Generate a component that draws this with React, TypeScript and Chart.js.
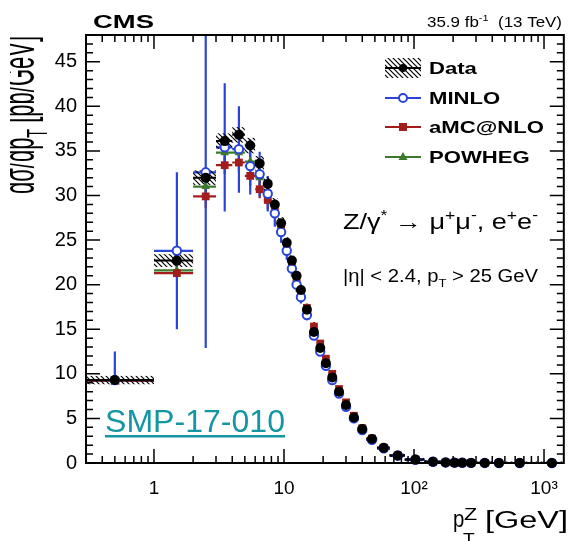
import React, { useEffect, useRef } from "react";
import { Chart, registerables } from "chart.js";
Chart.register(...registerables);

// ---- data (pT^Z bins in GeV) ----
const binLow = [0, 1, 2, 3, 4, 5, 6, 7, 8, 9, 10, 11, 12, 13, 14, 16, 18, 20, 22, 25, 28, 32, 37, 43, 52, 65, 85, 120, 160, 190, 220, 250, 300, 400, 500, 800];
const binHigh = [1, 2, 3, 4, 5, 6, 7, 8, 9, 10, 11, 12, 13, 14, 16, 18, 20, 22, 25, 28, 32, 37, 43, 52, 65, 85, 120, 160, 190, 220, 250, 300, 400, 500, 800, 1500];
const binCenter = [0.5, 1.5, 2.5, 3.5, 4.5, 5.5, 6.5, 7.5, 8.5, 9.5, 10.5, 11.5, 12.5, 13.5, 15, 17, 19, 21, 23.5, 26.5, 30, 34.5, 40, 47.5, 58.5, 75, 102.5, 140, 175, 205, 235, 275, 350, 450, 650, 1150];

const dataVals = [9.3, 22.7, 32.0, 36.1, 36.8, 35.6, 33.6, 31.3, 29.0, 26.9, 24.7, 22.7, 21.0, 19.4, 17.2, 14.7, 12.9, 11.2, 9.6, 8.0, 6.5, 5.1, 3.8, 2.7, 1.7, 0.85, 0.38, 0.14, 0.065, 0.038, 0.024, 0.014, 0.0065, 0.0025, 0.0008, 0.0001];
const dataUnc = [0.3, 0.55, 0.65, 0.7, 0.7, 0.7, 0.65, 0.6, 0.55, 0.5, 0.45, 0.42, 0.4, 0.37, 0.33, 0.28, 0.25, 0.22, 0.19, 0.16, 0.13, 0.1, 0.08, 0.06, 0.04, 0.02, 0.01, 0.004, 0.002, 0.001, 0.001, 0.0005, 0.0003, 0.0001, 0.00005, 0.00001];

const minloVals = [9.3, 23.8, 32.6, 35.4, 35.2, 33.3, 32.4, 30.2, 28.0, 25.9, 23.8, 21.8, 20.0, 18.6, 16.6, 14.3, 12.5, 10.9, 9.3, 7.8, 6.3, 5.0, 3.7, 2.6, 1.65, 0.82, 0.37, 0.135, 0.063, 0.037, 0.023, 0.013, 0.0062, 0.0024, 0.0008, 0.0001];
const minloErrUp = [3.2, 8.8, 20.0, 7.2, 4.8, 3.0, 2.5, 2.0, 1.5, 1.2, 1.0, 0.9, 0.8, 0.7, 0.6, 0.5, 0.5, 0.4, 0.4, 0.3, 0.3, 0.2, 0.2, 0.15, 0.1, 0.06, 0.03, 0.01, 0.005, 0.003, 0.002, 0.001, 0.0005, 0.0002, 0.0001, 0.00001];
const minloErrDown = [0.3, 8.8, 19.7, 7.2, 4.9, 3.2, 2.5, 2.0, 1.5, 1.2, 1.0, 0.9, 0.8, 0.7, 0.6, 0.5, 0.5, 0.4, 0.4, 0.3, 0.3, 0.2, 0.2, 0.15, 0.1, 0.06, 0.03, 0.01, 0.005, 0.003, 0.002, 0.001, 0.0005, 0.0002, 0.0001, 0.00001];

const amcVals = [9.2, 21.3, 29.9, 33.4, 33.7, 32.2, 30.7, 29.5, 28.4, 26.2, 24.2, 22.3, 20.6, 19.3, 17.4, 15.3, 13.4, 11.7, 10.0, 8.3, 6.8, 5.3, 3.9, 2.75, 1.72, 0.86, 0.39, 0.14, 0.066, 0.038, 0.024, 0.014, 0.0066, 0.0025, 0.0008, 0.0001];
const amcErr = [0.3, 0.5, 1.3, 1.0, 1.0, 1.1, 1.0, 1.0, 0.9, 0.8, 0.8, 0.7, 0.7, 0.6, 0.5, 0.5, 0.4, 0.4, 0.3, 0.3, 0.25, 0.2, 0.15, 0.1, 0.08, 0.05, 0.02, 0.01, 0.005, 0.003, 0.002, 0.001, 0.0005, 0.0002, 0.0001, 0.00001];

const powhegVals = [9.2, 21.6, 31.0, 34.8, 34.8, 33.8, 32.0, 30.5, 28.4, 26.2, 24.0, 22.0, 20.4, 18.9, 16.9, 14.6, 12.8, 11.1, 9.5, 7.9, 6.4, 5.0, 3.7, 2.6, 1.62, 0.8, 0.36, 0.13, 0.062, 0.036, 0.023, 0.013, 0.0062, 0.0024, 0.0008, 0.0001];
const powhegErr = [0.3, 0.4, 0.8, 0.9, 0.9, 0.9, 0.8, 0.8, 0.7, 0.6, 0.6, 0.5, 0.5, 0.5, 0.4, 0.4, 0.3, 0.3, 0.3, 0.2, 0.2, 0.15, 0.1, 0.08, 0.06, 0.04, 0.02, 0.01, 0.005, 0.003, 0.002, 0.001, 0.0005, 0.0002, 0.0001, 0.00001];

const xTickValues = [1, 10, 100, 1000];
const xTickLabels = ["1", "10", "10²", "10³"];
const yTickValues = [0, 5, 10, 15, 20, 25, 30, 35, 40, 45];

const BLUE = "#2a44d8";
const RED = "#a31c1c";
const GREEN = "#3b7a2c";
const TEAL = "#1596a3";
const FONT = '"Liberation Sans", Arial, Helvetica, sans-serif';

type Seg = { t: string; s?: "sub" | "sup" };

function richWidth(ctx: CanvasRenderingContext2D, segs: Seg[], size: number, bold?: boolean) {
  let w = 0;
  for (const sg of segs) {
    const fs = sg.s ? size * 0.65 : size;
    ctx.font = `${bold ? "bold " : ""}${fs}px ${FONT}`;
    w += ctx.measureText(sg.t).width;
  }
  return w;
}

function drawRich(
  ctx: CanvasRenderingContext2D,
  segs: Seg[],
  x: number,
  y: number,
  size: number,
  o: { bold?: boolean; color?: string; sx?: number; sy?: number; width?: number; align?: string } = {}
) {
  const nat = richWidth(ctx, segs, size, o.bold);
  const sx = o.width ? o.width / nat : o.sx ?? 1;
  const sy = o.sy ?? 1;
  ctx.save();
  ctx.translate(x, y);
  ctx.scale(sx, sy);
  let cx = o.align === "right" ? -nat : 0;
  ctx.fillStyle = o.color ?? "#000";
  ctx.textBaseline = "alphabetic";
  ctx.textAlign = "left";
  for (const sg of segs) {
    const fs = sg.s ? size * 0.65 : size;
    ctx.font = `${o.bold ? "bold " : ""}${fs}px ${FONT}`;
    const dy = sg.s === "sup" ? -size * 0.42 : sg.s === "sub" ? size * 0.3 : 0;
    ctx.fillText(sg.t, cx, dy);
    cx += ctx.measureText(sg.t).width;
  }
  ctx.restore();
  return nat * sx;
}

function makeHatch(ctx: CanvasRenderingContext2D) {
  const pc = document.createElement("canvas");
  pc.width = 5;
  pc.height = 5;
  const p = pc.getContext("2d")!;
  p.strokeStyle = "#000";
  p.lineWidth = 1.2;
  p.beginPath();
  p.moveTo(-1, -1);
  p.lineTo(6, 6);
  p.moveTo(-1, 4);
  p.lineTo(1, 6);
  p.moveTo(4, -1);
  p.lineTo(6, 1);
  p.stroke();
  return ctx.createPattern(pc, "repeat")!;
}

const errorBarPlugin = {
  id: "errorBars",
  beforeDatasetsDraw(chart: any) {
    const { ctx, chartArea: a } = chart;
    const xs = chart.scales.x;
    const ys = chart.scales.y;
    const px = (v: number) => xs.getPixelForValue(Math.max(v, xs.min));
    ctx.save();
    ctx.beginPath();
    ctx.rect(a.left, a.top, a.right - a.left, a.bottom - a.top);
    ctx.clip();
    const series = [
      { vals: powhegVals, up: powhegErr, dn: powhegErr, color: GREEN },
      { vals: amcVals, up: amcErr, dn: amcErr, color: RED },
      { vals: minloVals, up: minloErrUp, dn: minloErrDown, color: BLUE },
    ];
    for (const s of series) {
      ctx.strokeStyle = s.color;
      ctx.lineWidth = 2.2;
      ctx.beginPath();
      for (let i = 0; i < binCenter.length; i++) {
        const yc = ys.getPixelForValue(s.vals[i]);
        ctx.moveTo(px(binLow[i]), yc);
        ctx.lineTo(px(binHigh[i]), yc);
        const xc = xs.getPixelForValue(binCenter[i]);
        ctx.moveTo(xc, ys.getPixelForValue(s.vals[i] + s.up[i]));
        ctx.lineTo(xc, ys.getPixelForValue(s.vals[i] - s.dn[i]));
      }
      ctx.stroke();
    }
    // data: hatched uncertainty band + bin line
    const hatch = makeHatch(ctx);
    for (let i = 0; i < binCenter.length; i++) {
      const xl = px(binLow[i]);
      const xh = px(binHigh[i]);
      const yt = ys.getPixelForValue(dataVals[i] + dataUnc[i]);
      const yb = ys.getPixelForValue(dataVals[i] - dataUnc[i]);
      ctx.fillStyle = hatch;
      ctx.fillRect(xl, yt - 1.5, xh - xl, yb - yt + 3);
    }
    ctx.strokeStyle = "#000";
    ctx.lineWidth = 2;
    ctx.beginPath();
    for (let i = 0; i < binCenter.length; i++) {
      const yc = ys.getPixelForValue(dataVals[i]);
      ctx.moveTo(px(binLow[i]), yc);
      ctx.lineTo(px(binHigh[i]), yc);
    }
    ctx.stroke();
    ctx.restore();
  },
  afterDraw(chart: any) {
    const { ctx, chartArea: a } = chart;
    const xs = chart.scales.x;
    const ys = chart.scales.y;
    ctx.save();
    // frame
    ctx.strokeStyle = "#000";
    ctx.lineWidth = 2;
    ctx.strokeRect(a.left, a.top, a.right - a.left, a.bottom - a.top);
    // y ticks (inside, both sides)
    ctx.lineWidth = 1.5;
    ctx.beginPath();
    for (let v = 0; v <= ys.max; v += 1) {
      const y = ys.getPixelForValue(v);
      const len = v % 5 === 0 ? 14 : 7;
      ctx.moveTo(a.left, y);
      ctx.lineTo(a.left + len, y);
      ctx.moveTo(a.right, y);
      ctx.lineTo(a.right - len, y);
    }
    // x ticks (inside, top and bottom)
    for (let k = -1; k <= 3; k++) {
      for (let m = 1; m <= 9; m++) {
        const v = m * Math.pow(10, k);
        if (v < xs.min || v > xs.max) continue;
        const x = xs.getPixelForValue(v);
        const len = m === 1 ? 14 : 7;
        ctx.moveTo(x, a.bottom);
        ctx.lineTo(x, a.bottom - len);
        ctx.moveTo(x, a.top);
        ctx.lineTo(x, a.top + len);
      }
    }
    ctx.stroke();

    // legend
    const hatch = makeHatch(ctx);
    const lx0 = 385;
    const lx1 = 421;
    const lxc = (lx0 + lx1) / 2;
    const rows = [68, 98, 127, 157];
    // Data
    ctx.fillStyle = hatch;
    ctx.fillRect(lx0, rows[0] - 10, lx1 - lx0, 20);
    ctx.strokeStyle = "#000";
    ctx.lineWidth = 2;
    ctx.beginPath();
    ctx.moveTo(lx0, rows[0]);
    ctx.lineTo(lx1, rows[0]);
    ctx.stroke();
    ctx.fillStyle = "#000";
    ctx.beginPath();
    ctx.arc(lxc, rows[0], 4, 0, Math.PI * 2);
    ctx.fill();
    // MINLO
    ctx.strokeStyle = BLUE;
    ctx.beginPath();
    ctx.moveTo(lx0, rows[1]);
    ctx.lineTo(lx1, rows[1]);
    ctx.stroke();
    ctx.fillStyle = "#fff";
    ctx.beginPath();
    ctx.arc(lxc, rows[1], 4, 0, Math.PI * 2);
    ctx.fill();
    ctx.stroke();
    // aMC@NLO
    ctx.strokeStyle = RED;
    ctx.beginPath();
    ctx.moveTo(lx0, rows[2]);
    ctx.lineTo(lx1, rows[2]);
    ctx.stroke();
    ctx.fillStyle = RED;
    ctx.fillRect(lxc - 4, rows[2] - 4, 8, 8);
    // POWHEG
    ctx.strokeStyle = GREEN;
    ctx.beginPath();
    ctx.moveTo(lx0, rows[3]);
    ctx.lineTo(lx1, rows[3]);
    ctx.stroke();
    ctx.fillStyle = GREEN;
    ctx.beginPath();
    ctx.moveTo(lxc, rows[3] - 5);
    ctx.lineTo(lxc + 4.5, rows[3] + 3);
    ctx.lineTo(lxc - 4.5, rows[3] + 3);
    ctx.closePath();
    ctx.fill();

    const legendNames = ["Data", "MINLO", "aMC@NLO", "POWHEG"];
    legendNames.forEach((n, i) => {
      drawRich(ctx, [{ t: n }], 429, rows[i] + 6, 17, { bold: true, sx: 1.3 });
    });

    // header texts
    drawRich(ctx, [{ t: "CMS" }], 93, 28, 19, { bold: true, width: 61 });
    drawRich(ctx, [{ t: "35.9 fb" }, { t: "-1", s: "sup" }, { t: "  (13 TeV)" }], 562, 27, 14, { width: 135, align: "right" });

    // annotations
    drawRich(
      ctx,
      [
        { t: "Z/γ" },
        { t: "*", s: "sup" },
        { t: " → μ" },
        { t: "+", s: "sup" },
        { t: "μ" },
        { t: "-", s: "sup" },
        { t: ", e" },
        { t: "+", s: "sup" },
        { t: "e" },
        { t: "-", s: "sup" },
      ],
      343,
      229,
      22,
      { width: 195 }
    );
    drawRich(ctx, [{ t: "|η| < 2.4, p" }, { t: "T", s: "sub" }, { t: " > 25 GeV" }], 343, 282, 18, { width: 195 });

    // SMP label
    const w = drawRich(ctx, [{ t: "SMP-17-010" }], 105, 432, 32, { width: 180, color: TEAL });
    ctx.fillStyle = TEAL;
    ctx.fillRect(105, 435, w, 2.5);

    // x title
    drawRich(ctx, [{ t: "p" }], 453, 527, 24, { sx: 0.85 });
    drawRich(ctx, [{ t: "Z" }], 464, 520, 16, { sx: 1.35 });
    drawRich(ctx, [{ t: "T" }], 463, 545, 16, { sx: 1.2 });
    drawRich(ctx, [{ t: "[GeV]" }], 485, 528, 23, { width: 83 });

    // y title (rotated, clipped at left like the original)
    ctx.save();
    ctx.beginPath();
    ctx.rect(10, 0, 60, 541);
    ctx.clip();
    ctx.translate(34, 194);
    ctx.rotate(-Math.PI / 2);
    drawRich(ctx, [{ t: "dσ/dp" }, { t: "T", s: "sub" }, { t: " [pb/GeV]" }], 0, 0, 20, { width: 158, sy: 2.2 });
    ctx.restore();

    ctx.restore();
  },
};

export default function App() {
  const ref = useRef<HTMLCanvasElement>(null);
  useEffect(() => {
    if (!ref.current) return;
    const pts = (vals: number[]) => binCenter.map((x, i) => ({ x, y: vals[i] }));
    const chart = new Chart(ref.current, {
      type: "scatter",
      data: {
        datasets: [
          { label: "Data", data: pts(dataVals), pointStyle: "circle", pointRadius: 5, backgroundColor: "#000", borderColor: "#000", borderWidth: 0, clip: false } as any,
          { label: "MINLO", data: pts(minloVals), pointStyle: "circle", pointRadius: 4.2, backgroundColor: "#fff", borderColor: BLUE, borderWidth: 2, clip: false } as any,
          { label: "aMC@NLO", data: pts(amcVals), pointStyle: "rect", pointRadius: 5.5, backgroundColor: RED, borderColor: RED, borderWidth: 0, clip: false } as any,
          { label: "POWHEG", data: pts(powhegVals), pointStyle: "triangle", pointRadius: 5, backgroundColor: GREEN, borderColor: GREEN, borderWidth: 0, clip: false } as any,
        ],
      },
      options: {
        responsive: false,
        animation: false,
        devicePixelRatio: 1,
        layout: { padding: { left: 0, right: 5, top: 35, bottom: 0 } },
        plugins: { legend: { display: false }, tooltip: { enabled: false } },
        scales: {
          x: {
            type: "logarithmic",
            min: 0.3,
            max: 1420,
            grid: { display: false, drawTicks: false },
            border: { display: false },
            afterFit: (s: any) => {
              s.height = 78;
            },
            afterBuildTicks: (s: any) => {
              s.ticks = xTickValues.map((v) => ({ value: v, major: true }));
            },
            ticks: {
              autoSkip: false,
              maxRotation: 0,
              padding: 14,
              color: "#000",
              font: { family: FONT, size: 19 },
              callback: (v: any) => {
                const i = xTickValues.indexOf(Number(v));
                return i >= 0 ? xTickLabels[i] : "";
              },
            },
          },
          y: {
            min: 0,
            max: 48,
            grid: { display: false, drawTicks: false },
            border: { display: false },
            afterFit: (s: any) => {
              s.width = 86;
            },
            afterBuildTicks: (s: any) => {
              s.ticks = yTickValues.map((v) => ({ value: v }));
            },
            ticks: {
              autoSkip: false,
              padding: 9,
              color: "#000",
              font: { family: FONT, size: 20 },
            },
          },
        },
      },
      plugins: [errorBarPlugin],
    });
    return () => chart.destroy();
  }, []);
  return (
    <div style={{ position: "absolute", left: 0, top: 0, width: 572, height: 541, background: "#fff" }}>
      <canvas ref={ref} width={572} height={541} style={{ display: "block" }} />
    </div>
  );
}
